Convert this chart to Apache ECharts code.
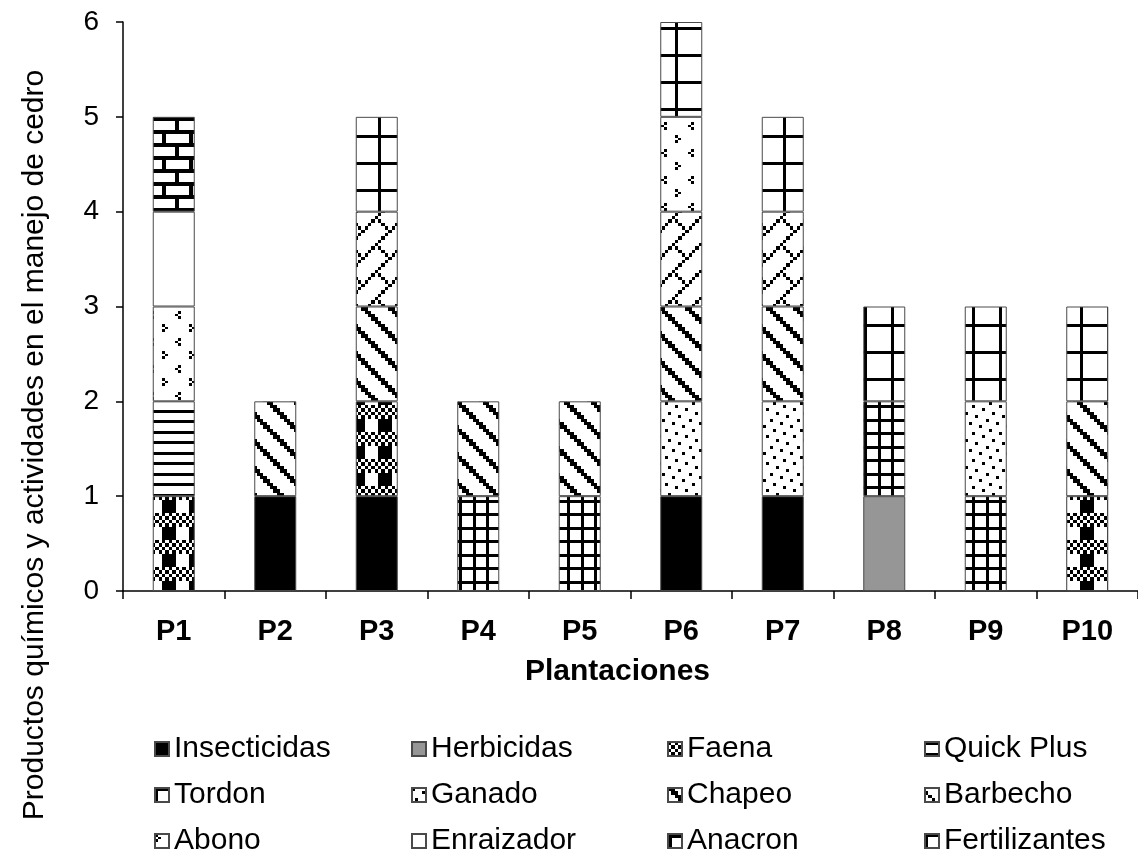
<!DOCTYPE html>
<html>
<head>
<meta charset="utf-8">
<title>Productos químicos y actividades en el manejo de cedro</title>
<script src="https://cdn.jsdelivr.net/npm/echarts@6/dist/echarts.min.js"></script>
<style>
  html, body { margin: 0; padding: 0; background: #fff; }
  #chart { width: 1138px; height: 854px; }
</style>
</head>
<body>
<div id="chart"></div>
<script>
// Plantations on the category axis
const categories = ['P1', 'P2', 'P3', 'P4', 'P5', 'P6', 'P7', 'P8', 'P9', 'P10'];

// Value axis range
const yMin = 0;
const yMax = 6;
const yStep = 1;

// Number of products / activities per plantation (stacked bottom to top)
const insecticidas  = [0, 1, 1, 0, 0, 1, 1, 0, 0, 0];
const herbicidas    = [0, 0, 0, 0, 0, 0, 0, 1, 0, 0];
const faena         = [1, 0, 1, 0, 0, 0, 0, 0, 0, 1];
const quickPlus     = [1, 0, 0, 0, 0, 0, 0, 0, 0, 0];
const tordon        = [0, 0, 0, 1, 1, 0, 0, 1, 1, 0];
const ganado        = [0, 0, 0, 0, 0, 1, 1, 0, 1, 0];
const chapeo        = [0, 1, 1, 1, 1, 1, 1, 0, 0, 1];
const barbecho      = [0, 0, 1, 0, 0, 1, 1, 0, 0, 0];
const abono         = [1, 0, 0, 0, 0, 1, 0, 0, 0, 0];
const enraizador    = [1, 0, 0, 0, 0, 0, 0, 0, 0, 0];
const anacron       = [1, 0, 0, 0, 0, 0, 0, 0, 0, 0];
const fertilizantes = [0, 0, 1, 0, 0, 1, 1, 1, 1, 1];

// ---- hatch fills (black on white tiles) ----
function tile(w, h, draw) {
  const c = document.createElement('canvas');
  c.width = w; c.height = h;
  const g = c.getContext('2d');
  g.fillStyle = '#fff';
  g.fillRect(0, 0, w, h);
  g.fillStyle = '#000';
  draw(g);
  return { image: c, repeat: 'repeat' };
}
// 8x8 bitmap stretched over a square tile
function bitmap(rows, size) {
  const n = rows.length;
  const b = [];
  for (let i = 0; i <= n; i++) b.push(Math.round(i * size / n));
  return tile(size, size, g => {
    rows.forEach((row, r) => {
      for (let c = 0; c < row.length; c++) {
        if (row[c] === '1') g.fillRect(b[c], b[r], b[c + 1] - b[c], b[r + 1] - b[r]);
      }
    });
  });
}
const T = 27;

const fills = {
  insecticidas: '#000000',
  herbicidas: '#969696',
  faena: bitmap([
    '10101010',
    '01010101',
    '10101010',
    '01010101',
    '11110000',
    '11110000',
    '11110000',
    '11110000'
  ], T),
  quickPlus: tile(4, 21, g => { g.fillRect(0, 0, 4, 3); g.fillRect(0, 11, 4, 3); }),
  tordon: tile(T, T, g => {
    g.fillRect(0, 0, 3, T); g.fillRect(14, 0, 3, T);
    g.fillRect(0, 0, T, 3); g.fillRect(0, 14, T, 3);
  }),
  ganado: (function () {
    const b = [0, 3, 7, 10, 14, 17, 20, 24, 27];
    return tile(T, T, g => {
      for (let r = 0; r < 8; r++) {
        const c = (r * 3) % 8;
        g.fillRect(b[c], b[r], 3, 3);
      }
    });
  })(),
  chapeo: bitmap([
    '11000000',
    '01100000',
    '00110000',
    '00011000',
    '00001100',
    '00000110',
    '00000011',
    '10000001'
  ], T),
  barbecho: bitmap([
    '00000001',
    '10000010',
    '01000100',
    '00101000',
    '00010000',
    '00100000',
    '01000000',
    '10000000'
  ], T),
  abono: tile(T, T, g => {
    const gt = (x, y) => { g.fillRect(x, y, 3, 3); g.fillRect(x + 3, y + 3, 3, 2); g.fillRect(x, y + 5, 3, 3); };
    const lt = (x, y) => { g.fillRect(x + 3, y, 3, 3); g.fillRect(x, y + 3, 3, 2); g.fillRect(x + 3, y + 5, 3, 3); };
    gt(0, 0);
    lt(13, 14);
  }),
  enraizador: '#ffffff',
  anacron: tile(T, 26, g => {
    g.fillRect(0, 0, T, 4); g.fillRect(0, 13, T, 4);
    g.fillRect(0, 0, 4, 13); g.fillRect(13, 13, 4, 13);
  }),
  fertilizantes: tile(T, T, g => { g.fillRect(0, 0, 3, T); g.fillRect(0, 0, T, 3); })
};

const seriesList = [
  ['Insecticidas', insecticidas, fills.insecticidas],
  ['Herbicidas', herbicidas, fills.herbicidas],
  ['Faena', faena, fills.faena],
  ['Quick Plus', quickPlus, fills.quickPlus],
  ['Tordon', tordon, fills.tordon],
  ['Ganado', ganado, fills.ganado],
  ['Chapeo', chapeo, fills.chapeo],
  ['Barbecho', barbecho, fills.barbecho],
  ['Abono', abono, fills.abono],
  ['Enraizador', enraizador, fills.enraizador],
  ['Anacron', anacron, fills.anacron],
  ['Fertilizantes', fertilizantes, fills.fertilizantes]
];

const FONT = '"Liberation Sans", Arial, sans-serif';

const series = seriesList.map(([name, values, fill]) => ({
  name: name,
  type: 'bar',
  stack: 'total',
  barWidth: 42,
  data: values.map(v => (v === 0 ? '-' : v)),
  itemStyle: { color: fill, borderColor: '#4a4a4a', borderWidth: 1 },
  emphasis: { disabled: true }
}));

// Legend: 4 columns x 3 rows
const legendCols = [154, 411, 667, 924];
const legends = legendCols.map((left, col) => ({
  orient: 'vertical',
  left: left,
  top: 734,
  width: 250,
  height: 160,
  padding: 0,
  icon: 'rect',
  itemWidth: 14,
  itemHeight: 14,
  itemGap: 16,
  selectedMode: false,
  textStyle: { fontFamily: FONT, fontSize: 30, color: '#000', lineHeight: 30 },
  data: [0, 1, 2].map(row => seriesList[row * 4 + col][0])
}));

const chart = echarts.init(document.getElementById('chart'), null, { renderer: 'canvas' });
chart.setOption({
  backgroundColor: '#ffffff',
  animation: false,
  grid: { left: 123, top: 22, width: 1019, height: 569, containLabel: false },
  legend: legends,
  xAxis: {
    type: 'category',
    data: categories,
    name: 'Plantaciones',
    nameLocation: 'middle',
    nameGap: 66,
    nameTextStyle: { fontFamily: FONT, fontSize: 30, fontWeight: 'bold', color: '#000', padding: [0, 26, 0, 0] },
    axisLine: { lineStyle: { color: '#000', width: 1.5 } },
    axisTick: { show: true, alignWithLabel: false, length: 8, lineStyle: { color: '#000', width: 1.5 } },
    axisLabel: { fontFamily: FONT, fontSize: 29, fontWeight: 'bold', color: '#000', margin: 26 },
    splitLine: { show: false }
  },
  yAxis: {
    type: 'value',
    min: yMin,
    max: yMax,
    interval: yStep,
    axisLine: { show: true, lineStyle: { color: '#000', width: 1.5 } },
    axisTick: { show: true, length: 7, lineStyle: { color: '#000', width: 1.5 } },
    axisLabel: { fontFamily: FONT, fontSize: 28, color: '#000', margin: 24 },
    splitLine: { show: false }
  },
  graphic: [{
    type: 'text',
    x: 35,
    y: 445,
    rotation: Math.PI / 2,
    style: {
      text: 'Productos químicos y actividades en el manejo de cedro',
      font: '30px "Liberation Sans", Arial, sans-serif',
      fill: '#000',
      align: 'center',
      verticalAlign: 'middle'
    }
  }],
  series: series
});
</script>
</body>
</html>
